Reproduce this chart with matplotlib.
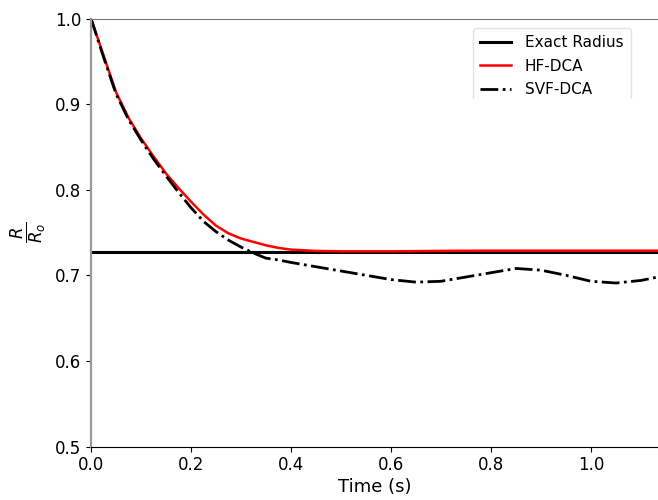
import matplotlib
matplotlib.use("Agg")
import matplotlib.pyplot as plt
from matplotlib.patches import Rectangle

# Data
exact_radius = 0.7275
time_hf = [0, 0.025, 0.05, 0.075, 0.1, 0.125, 0.15, 0.175, 0.2, 0.225, 0.25, 0.275,
           0.3, 0.325, 0.35, 0.375, 0.4, 0.45, 0.5, 0.6, 0.7, 0.8, 0.9, 1.0, 1.1, 1.134]
r_hf = [1.0, 0.957, 0.914, 0.884, 0.860, 0.839, 0.819, 0.802, 0.786, 0.771, 0.758, 0.749,
        0.743, 0.739, 0.735, 0.732, 0.730, 0.7285, 0.728, 0.728, 0.7285, 0.7288, 0.7288, 0.7288, 0.7288, 0.7288]

time_svf = [0, 0.025, 0.05, 0.075, 0.1, 0.125, 0.15, 0.175, 0.2, 0.225, 0.25, 0.275,
            0.3, 0.325, 0.35, 0.375, 0.4, 0.45, 0.5, 0.55, 0.6, 0.65, 0.7, 0.75, 0.8,
            0.85, 0.9, 0.95, 1.0, 1.05, 1.1, 1.134]
r_svf = [1.0, 0.955, 0.912, 0.882, 0.858, 0.836, 0.816, 0.797, 0.779, 0.763, 0.751, 0.741,
         0.733, 0.726, 0.720, 0.718, 0.715, 0.710, 0.705, 0.700, 0.695, 0.692, 0.693, 0.698, 0.703,
         0.708, 0.706, 0.700, 0.693, 0.691, 0.694, 0.698]

x_limits = (0, 1.134)
y_limits = (0.5, 1.0)

fig = plt.figure(figsize=(6.58, 5.0), dpi=100)
ax = fig.add_axes([91/658, 53.5/500, 1 - 91/658, (446.5 - 18.5)/500])

ax.axhline(exact_radius, color="black", lw=2.2, label="Exact Radius")
ax.plot(time_hf, r_hf, color="red", lw=1.8, label="HF-DCA")
ax.plot(time_svf, r_svf, color="black", lw=2.0, ls="-.", label="SVF-DCA")

ax.set_xlim(*x_limits)
ax.set_ylim(*y_limits)
ax.set_xticks([0.0, 0.2, 0.4, 0.6, 0.8, 1.0])
ax.set_yticks([0.5, 0.6, 0.7, 0.8, 0.9, 1.0])
ax.tick_params(labelsize=12)
ax.set_xlabel("Time (s)", fontsize=13, labelpad=3)
ax.set_ylabel(r"$\frac{R}{R_o}$", fontsize=17, labelpad=4)

ax.spines["right"].set_visible(False)
ax.spines["left"].set_color("#999999")
ax.spines["left"].set_linewidth(1.6)
ax.spines["top"].set_color("#777777")
ax.spines["bottom"].set_color("black")

leg = ax.legend(loc="upper right", bbox_to_anchor=(631/658, (500 - 27.5)/500),
                bbox_transform=fig.transFigure, borderaxespad=0, fontsize=11,
                labelspacing=0.55, handlelength=2.0, handletextpad=0.9,
                borderpad=0.5, frameon=True)
leg.get_frame().set_edgecolor("#dddddd")

# clip legend bottom like the reference
fig.add_artist(Rectangle((460/658, (500 - 115)/500), 185/658, 16/500,
                         transform=fig.transFigure, facecolor="white",
                         edgecolor="none", zorder=10))

fig.savefig("out.png", dpi=100)
